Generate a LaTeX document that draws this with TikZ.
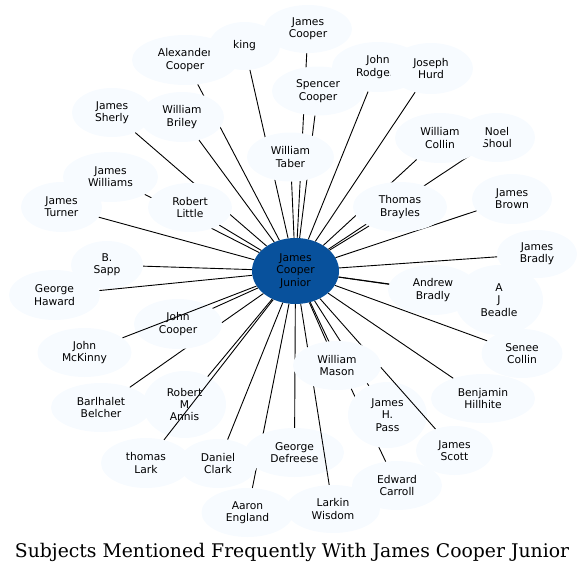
\documentclass[tikz,border=0pt]{standalone}
\usepackage{fontspec}
\setmainfont{DejaVu Sans}
\newfontfamily\titlefont{DejaVu Serif}
\usetikzlibrary{shapes.geometric}
\definecolor{subjfill}{HTML}{F7FBFF}
\definecolor{hubfill}{HTML}{08519C}

\begin{document}
\begin{tikzpicture}[x=1pt,y=-1pt,
  subj/.style={ellipse,fill=subjfill,inner sep=0pt,align=center,font=\fontsize{10.7}{12.3}\selectfont},
  link/.style={line width=0.9pt}]
\useasboundingbox (0,0) rectangle (585,573);
\node[subj,fill=hubfill,minimum width=87pt,minimum height=66pt] (sj0) at (295.5,271) {James\\Cooper\\Junior};
\node[subj,minimum width=106pt,minimum height=50pt] (sj1) at (185,60) {Alexander\\Cooper};
\draw[link] (sj0) -- (sj1);
\node[subj,minimum width=71pt,minimum height=48pt] (sj2) at (244.5,46) {king};
\draw[link] (sj0) -- (sj2);
\node[subj,minimum width=88pt,minimum height=48pt] (sj3) at (308,29) {James\\Cooper};
\draw[link] (sj0) -- (sj3);
\node[subj,minimum width=92pt,minimum height=49pt] (sj4) at (318,91) {Spencer\\Cooper};
\draw[link] (sj0) -- (sj4);
\node[subj,minimum width=87pt,minimum height=49pt] (sj5) at (290.5,157) {William\\Taber};
\draw[link] (sj0) -- (sj5);
\node[subj,minimum width=84pt,minimum height=50pt] (sj6) at (182,117) {William\\Briley};
\draw[link] (sj0) -- (sj6);
\node[subj,minimum width=80pt,minimum height=49pt] (sj7) at (112,112.5) {James\\Sherly};
\draw[link] (sj0) -- (sj7);
\node[subj,minimum width=95pt,minimum height=50pt] (sj8) at (110.5,177) {James\\Williams};
\draw[link] (sj0) -- (sj8);
\node[subj,minimum width=84pt,minimum height=49pt] (sj9) at (190,207.5) {Robert\\Little};
\draw[link] (sj0) -- (sj9);
\node[subj,minimum width=81pt,minimum height=50pt] (sj10) at (61.5,207) {James\\Turner};
\draw[link] (sj0) -- (sj10);
\node[subj,minimum width=72pt,minimum height=48pt] (sj11) at (107,265) {B.\\Sapp};
\draw[link] (sj0) -- (sj11);
\node[subj,minimum width=91pt,minimum height=50pt] (sj12) at (54.5,295) {George\\Haward};
\draw[link] (sj0) -- (sj12);
\node[subj,minimum width=100pt,minimum height=49pt] (sj13) at (101,407.5) {Barlhalet\\Belcher};
\draw[link] (sj0) -- (sj13);
\node[subj,minimum width=88pt,minimum height=50pt] (sj14) at (178,324) {John\\Cooper};
\draw[link] (sj0) -- (sj14);
\node[subj,minimum width=94pt,minimum height=49pt] (sj15) at (84.5,352.5) {John\\McKinny};
\draw[link] (sj0) -- (sj15);
\node[subj,minimum width=83pt,minimum height=67pt] (sj16) at (184.5,404.5) {Robert\\M\\Annis};
\draw[link] (sj0) -- (sj16);
\node[subj,minimum width=90pt,minimum height=50pt] (sj17) at (146,463) {thomas\\Lark};
\draw[link] (sj0) -- (sj17);
\node[subj,minimum width=92pt,minimum height=49pt] (sj18) at (247.5,512.5) {Aaron\\England};
\draw[link] (sj0) -- (sj18);
\node[subj,minimum width=78pt,minimum height=49pt] (sj19) at (218,463.5) {Daniel\\Clark};
\draw[link] (sj0) -- (sj19);
\node[subj,minimum width=99pt,minimum height=49pt] (sj20) at (294.5,452.5) {George\\Defreese};
\draw[link] (sj0) -- (sj20);
\node[subj,minimum width=94pt,minimum height=48pt] (sj21) at (333,509) {Larkin\\Wisdom};
\draw[link] (sj0) -- (sj21);
\node[subj,minimum width=90pt,minimum height=49pt] (sj22) at (397,485.5) {Edward\\Carroll};
\draw[link] (sj0) -- (sj22);
\node[subj,minimum width=79pt,minimum height=66pt] (sj23) at (387.5,415) {James\\H.\\Pass};
\draw[link] (sj0) -- (sj23);
\node[subj,minimum width=77pt,minimum height=49pt] (sj24) at (454.5,450.5) {James\\Scott};
\draw[link] (sj0) -- (sj24);
\node[subj,minimum width=88pt,minimum height=49pt] (sj25) at (337,365.5) {William\\Mason};
\draw[link] (sj0) -- (sj25);
\node[subj,minimum width=104pt,minimum height=49pt] (sj26) at (483,398.5) {Benjamin\\Hillhite};
\draw[link] (sj0) -- (sj26);
\node[subj,minimum width=81pt,minimum height=49pt] (sj27) at (522,353.5) {Senee\\Collin};
\draw[link] (sj0) -- (sj27);
\node[subj,minimum width=88pt,minimum height=70pt] (sj28) at (499,300) {A\\J\\Beadle};
\draw[link] (sj0) -- (sj28);
\node[subj,minimum width=90pt,minimum height=50pt] (sj29) at (433,290) {Andrew\\Bradly};
\draw[link] (sj0) -- (sj29);
\node[subj,minimum width=80pt,minimum height=48pt] (sj30) at (537,254) {James\\Bradly};
\draw[link] (sj0) -- (sj30);
\node[subj,minimum width=80pt,minimum height=50pt] (sj31) at (512,199) {James\\Brown};
\draw[link] (sj0) -- (sj31);
\node[subj,minimum width=76pt,minimum height=49pt] (sj32) at (497,137.5) {Noel\\Shoul};
\draw[link] (sj0) -- (sj32);
\node[subj,minimum width=90pt,minimum height=50pt] (sj33) at (440,138) {William\\Collin};
\draw[link] (sj0) -- (sj33);
\node[subj,minimum width=94pt,minimum height=50pt] (sj34) at (400,207) {Thomas\\Brayles};
\draw[link] (sj0) -- (sj34);
\node[subj,minimum width=92pt,minimum height=50pt] (sj35) at (378,67) {John\\Rodgers};
\draw[link] (sj0) -- (sj35);
\node[subj,minimum width=84pt,minimum height=51pt] (sj36) at (431,68.5) {Joseph\\Hurd};
\draw[link] (sj0) -- (sj36);
% caption
\node[font=\titlefont\fontsize{18.8}{22}\selectfont,anchor=base,inner sep=0pt] (ttl) at (292,557) {Subjects Mentioned Frequently With James Cooper Junior};
\end{tikzpicture}
\end{document}
